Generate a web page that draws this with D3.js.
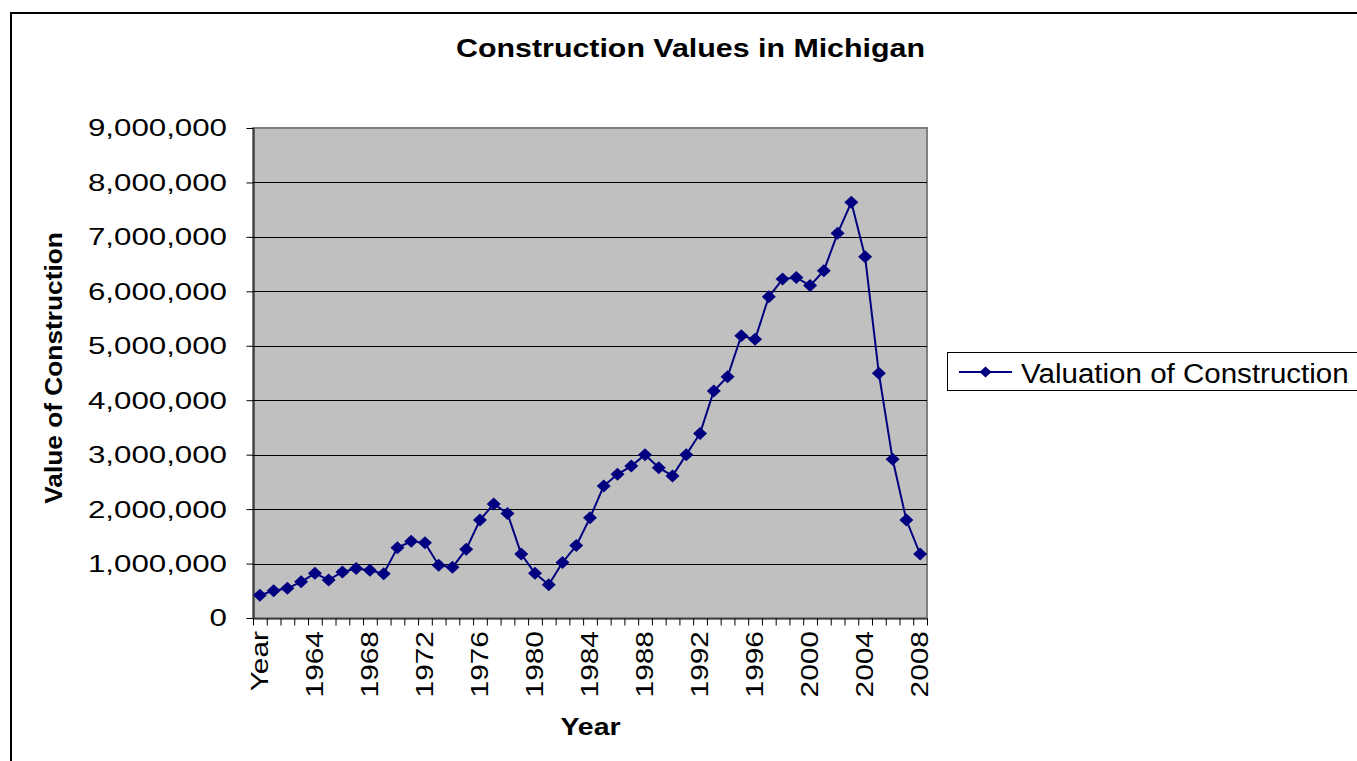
<!DOCTYPE html>
<html>
<head>
<meta charset="utf-8">
<script src="https://cdn.jsdelivr.net/npm/d3@7"></script>
<style>
  body{margin:0;background:#fff;}
  svg{display:block;}
  text{font-family:"Liberation Sans",Arial,sans-serif;fill:#000;}
</style>
</head>
<body>
<div id="graphWrapper"></div>
<script>
//data
const CATEGORIES = ['Year','1961','1962','1963','1964','1965','1966','1967','1968','1969','1970',
    '1971','1972','1973','1974','1975','1976','1977','1978','1979','1980',
    '1981','1982','1983','1984','1985','1986','1987','1988','1989','1990',
    '1991','1992','1993','1994','1995','1996','1997','1998','1999','2000',
    '2001','2002','2003','2004','2005','2006','2007','2008'];
const VALUES = [420000,500000,545000,665000,820000,700000,845000,910000,875000,815000,
    1290000,1410000,1380000,970000,930000,1265000,1800000,2095000,1920000,1175000,
    820000,610000,1020000,1330000,1840000,2425000,2640000,2790000,3000000,2760000,
    2610000,3000000,3390000,4170000,4430000,5185000,5120000,5900000,6225000,6255000,
    6105000,6380000,7065000,7635000,6635000,4495000,2915000,1800000,1175000];
const Y_TICKS = [0,1000000,2000000,3000000,4000000,5000000,6000000,7000000,8000000,9000000];
const X_LABELS = ['Year','1964','1968','1972','1976','1980','1984','1988','1992','1996','2000','2004','2008'];
const TITLE = 'Construction Values in Michigan';
const X_TITLE = 'Year';
const Y_TITLE = 'Value of Construction';
const SERIES_NAME = 'Valuation of Construction';

//layout
const CONSTANTS = {
    WIDTH:1357,
    HEIGHT:761,
    PLOT_LEFT:253,
    PLOT_RIGHT:927,
    PLOT_TOP:128,
    PLOT_BOTTOM:618,
    LINE_COLOR:'#000080',
    PLOT_FILL:'#c0c0c0'
};

//diamond marker path
function diamond(cx, cy, w, h){
    return 'M'+cx+','+(cy-h)+'L'+(cx+w)+','+cy+'L'+cx+','+(cy+h)+'L'+(cx-w)+','+cy+'Z';
}

function main(){
    let svg = d3.select('#graphWrapper').append('svg')
        .attr('width',CONSTANTS.WIDTH)
        .attr('height',CONSTANTS.HEIGHT);

    //chart border
    svg.append('rect')
        .attr('x',11).attr('y',13)
        .attr('width',1400).attr('height',800)
        .attr('fill','#fff').attr('stroke','#000').attr('stroke-width',2);

    //scales
    let x = d3.scaleBand()
        .domain(CATEGORIES)
        .range([CONSTANTS.PLOT_LEFT,CONSTANTS.PLOT_RIGHT]);
    let xEdge = d3.scaleLinear()
        .domain([0,CATEGORIES.length])
        .range([CONSTANTS.PLOT_LEFT,CONSTANTS.PLOT_RIGHT]);
    let y = d3.scaleLinear()
        .domain([0,9000000])
        .range([CONSTANTS.PLOT_BOTTOM,CONSTANTS.PLOT_TOP]);

    //plot area
    svg.append('rect')
        .attr('x',CONSTANTS.PLOT_LEFT).attr('y',CONSTANTS.PLOT_TOP)
        .attr('width',CONSTANTS.PLOT_RIGHT-CONSTANTS.PLOT_LEFT)
        .attr('height',CONSTANTS.PLOT_BOTTOM-CONSTANTS.PLOT_TOP)
        .attr('fill',CONSTANTS.PLOT_FILL)
        .attr('stroke','#808080').attr('stroke-width',2);

    //gridlines
    svg.append('g').selectAll('line')
        .data(Y_TICKS.filter(d=>d>0 && d<9000000))
        .enter().append('line')
        .attr('x1',CONSTANTS.PLOT_LEFT).attr('x2',CONSTANTS.PLOT_RIGHT)
        .attr('y1',d=>Math.round(y(d))+0.5).attr('y2',d=>Math.round(y(d))+0.5)
        .attr('stroke','#000').attr('stroke-width',1);

    //y axis (the text in the picture is drawn wider than the font, so it gets stretched)
    let yAxis = d3.axisLeft(y).tickValues(Y_TICKS).tickSize(7).tickSizeOuter(0).tickFormat('');
    let yg = svg.append('g')
        .attr('transform','translate('+(CONSTANTS.PLOT_LEFT+0.5)+',0)')
        .call(yAxis);
    yg.select('.domain').attr('stroke','#000');
    yg.selectAll('.tick line').attr('stroke','#000');

    svg.append('g').selectAll('text')
        .data(Y_TICKS)
        .enter().append('text')
        .attr('transform',d=>'translate(227,'+(y(d)+8.4)+') scale(1.36,1)')
        .attr('text-anchor','end')
        .style('font-size','23px')
        .text(d=>d3.format(',')(d));

    //x axis, ticks on the category edges
    let xAxis = d3.axisBottom(xEdge).tickValues(d3.range(CATEGORIES.length+1)).tickSize(7).tickSizeOuter(0).tickFormat('');
    let xg = svg.append('g')
        .attr('transform','translate(0,'+(CONSTANTS.PLOT_BOTTOM+0.5)+')')
        .call(xAxis);
    xg.select('.domain').attr('stroke','#000');
    xg.selectAll('.tick line').attr('stroke','#000');

    svg.append('g').selectAll('text')
        .data(X_LABELS)
        .enter().append('text')
        .attr('transform',d=>'translate('+(x(d)+x.bandwidth()/2+8)+',631) rotate(-90) scale(1.3,1)')
        .attr('text-anchor','end')
        .style('font-size','23px')
        .text(d=>d);

    //the series
    let line = d3.line()
        .x((d,i)=>x(CATEGORIES[i])+x.bandwidth()/2)
        .y(d=>y(d));
    svg.append('path')
        .datum(VALUES)
        .attr('d',line)
        .attr('fill','none')
        .attr('stroke',CONSTANTS.LINE_COLOR)
        .attr('stroke-width',2);
    svg.append('g').selectAll('path')
        .data(VALUES)
        .enter().append('path')
        .attr('d',(d,i)=>diamond(x(CATEGORIES[i])+x.bandwidth()/2,y(d),7,6.5))
        .attr('fill',CONSTANTS.LINE_COLOR);

    //titles
    svg.append('text')
        .attr('transform','translate(690.5,57) scale(1.215,1)')
        .attr('text-anchor','middle')
        .style('font-size','25px').style('font-weight','bold')
        .text(TITLE);
    svg.append('text')
        .attr('transform','translate(590.5,735) scale(1.24,1)')
        .attr('text-anchor','middle')
        .style('font-size','23px').style('font-weight','bold')
        .text(X_TITLE);
    svg.append('text')
        .attr('transform','translate(62,368) rotate(-90) scale(1.11,1)')
        .attr('text-anchor','middle')
        .style('font-size','23.7px').style('font-weight','bold')
        .text(Y_TITLE);

    //legend
    let legend = svg.append('g').attr('id','legend');
    legend.append('rect')
        .attr('x',947.5).attr('y',352.5)
        .attr('width',500).attr('height',38)
        .attr('fill','#fff').attr('stroke','#000').attr('stroke-width',1);
    legend.append('line')
        .attr('x1',959).attr('x2',1012)
        .attr('y1',372).attr('y2',372)
        .attr('stroke',CONSTANTS.LINE_COLOR).attr('stroke-width',2);
    legend.append('path')
        .attr('d',diamond(985.5,372,6,5.5))
        .attr('fill',CONSTANTS.LINE_COLOR);
    legend.append('text')
        .attr('transform','translate(1021,382.5) scale(1.055,1)')
        .style('font-size','28px')
        .text(SERIES_NAME);
}

main();
</script>
</body>
</html>
